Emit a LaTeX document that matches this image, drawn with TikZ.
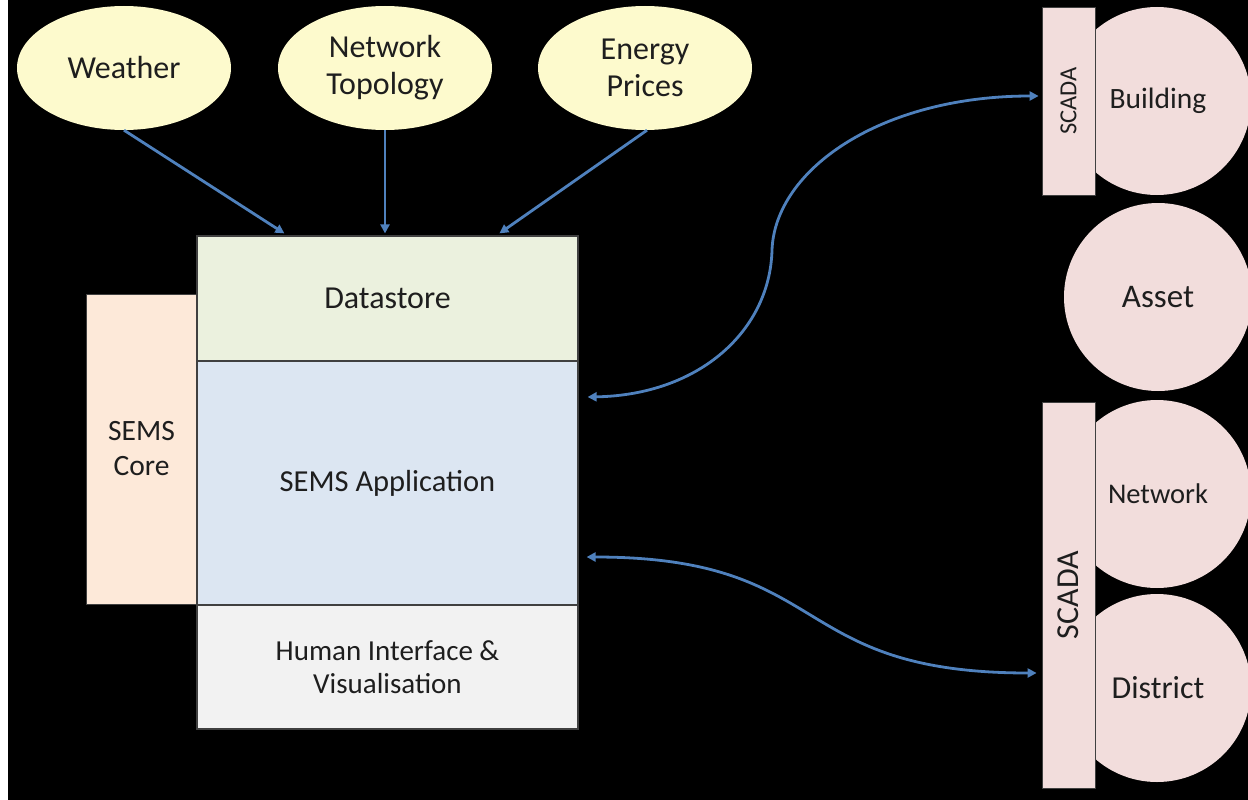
\documentclass[tikz,border=0pt]{standalone}
\usepackage{fontspec}
\setmainfont{Carlito}
\usetikzlibrary{shapes.geometric,arrows.meta,calc}

\definecolor{srcyellow}{RGB}{253,250,205}
\definecolor{sitepink}{RGB}{242,221,220}
\definecolor{storegreen}{RGB}{235,241,222}
\definecolor{appblue}{RGB}{220,230,242}
\definecolor{hmigrey}{RGB}{242,242,242}
\definecolor{corepeach}{RGB}{253,233,217}
\definecolor{linkblue}{RGB}{79,129,189}
\definecolor{ink}{RGB}{30,30,30}
\definecolor{rim}{RGB}{64,64,64}

\newcommand{\fs}[2]{\fontsize{#1}{#2}\selectfont}

\begin{document}
\begin{tikzpicture}[x=1pt,y=-1pt,
  source/.style={ellipse, fill=srcyellow, minimum width=214pt, minimum height=124pt,
                 inner sep=0pt, align=center, text=ink, font=\fs{32}{37}},
  layer/.style={rectangle, draw=rim, line width=1.2pt, minimum width=381pt,
                inner sep=0pt, align=center, text=ink},
  site/.style={circle, fill=sitepink, minimum size=188pt, inner sep=0pt, text=ink},
  scadabar/.style={rectangle, fill=sitepink, draw=rim, line width=0.8pt,
                   minimum width=53pt, inner sep=0pt},
  feed/.style={draw=linkblue, line width=2.8pt, -{Triangle[length=9pt,width=9pt]}},
  link/.style={draw=linkblue, line width=2.8pt,
               {Triangle[length=9pt,width=9pt]}-{Triangle[length=9pt,width=9pt]}}
]
\useasboundingbox (0,0) rectangle (1248,800);
\fill[black] (0,0) rectangle (1248,800);
\fill[white] (0,0) rectangle (8,800);

% external data sources
\node[source] (weather) at (124,68) {Weather};
\node[source] (topo)    at (385,68) {Network\\Topology};
\node[source] (prices)  at (645,68) {Energy\\Prices};

% SEMS core column behind the layer stack
\node[rectangle, fill=corepeach, draw=rim, line width=0.8pt, minimum width=111pt,
      minimum height=310pt, inner sep=0pt, align=center, text=ink, font=\fs{29.5}{35}]
      (core) at (141.5,449) {SEMS\\Core};

% layer stack
\node[layer, fill=storegreen, minimum height=125pt, font=\fs{32}{36}] (ds)  at (387.5,298.5) {Datastore};
\node[layer, fill=appblue,    minimum height=244pt, font=\fs{30.5}{34}] (app) at (387.5,483) {SEMS Application};
\node[layer, fill=hmigrey,    minimum height=124pt, font=\fs{29}{33}] (hmi) at (387.5,667) {Human Interface \&\\Visualisation};

% field sites
\node[site, font=\fs{29.5}{34}] (bld)  at (1157,101) {\hspace*{2pt}Building};
\node[site, font=\fs{33}{36}] (asset) at (1158,297) {Asset};
\node[site, font=\fs{28.5}{34}] (netw) at (1157,494) {\hspace*{2pt}Network};
\node[site, font=\fs{32}{36}] (dist) at (1157,688) {\hspace*{2pt}District};

% SCADA bars
\node[scadabar, minimum height=188pt] (scb) at (1068.5,101) {};
\node[rotate=90, text=ink, font=\fs{24.5}{28}] (scbt) at (scb.center) {SCADA};
\node[scadabar, minimum height=386pt] (scd) at (1068.5,595) {};
\node[rotate=90, text=ink, font=\fs{32}{36}] (scdt) at (scd.center) {SCADA};

% data feeds into the datastore
\coordinate (in1) at ([xshift=88pt,yshift=2pt]ds.north west);
\coordinate (in2) at ([xshift=189pt,yshift=2pt]ds.north west);
\coordinate (in3) at ([xshift=303pt,yshift=2pt]ds.north west);
\draw[feed] (weather.south) -- (in1);
\draw[feed] (topo.south) -- (topo.south |- in2);
\draw[feed] ([xshift=2pt]prices.south) -- (in3);

% two-way links to the SCADA systems
\coordinate (a1) at ([xshift=9pt,yshift=86pt]app.east);
\coordinate (b1) at ([xshift=-3pt,yshift=5pt]scb.west);
\coordinate (k1) at (772,250);
\draw[link] (a1) .. controls (700,395) and (770,330) .. (k1)
                 .. controls (775,170) and (880,96) .. (b1);

\coordinate (a2) at ([xshift=8pt,yshift=-74pt]app.east);
\coordinate (b2) at ([xshift=-5pt,yshift=-78pt]scd.west);
\draw[link] (a2) .. controls (835,557) and (785,673) .. (b2);
\end{tikzpicture}
\end{document}
